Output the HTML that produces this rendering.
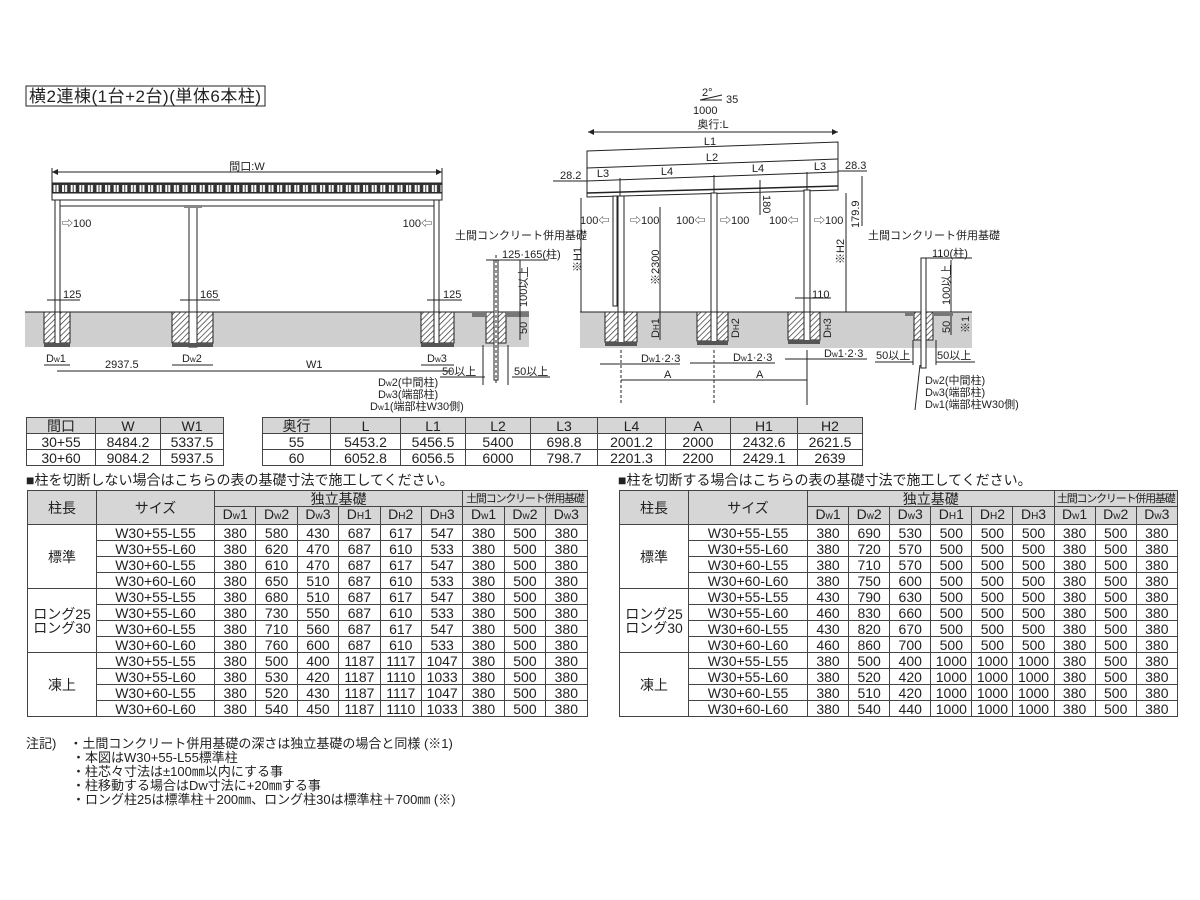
<!DOCTYPE html>
<html><head><meta charset="utf-8"><style>
body{margin:0;background:#fff;width:1200px;height:900px;position:relative;overflow:hidden;font-family:"Liberation Sans","Noto Sans CJK JP",sans-serif;color:#222}
svg{position:absolute;left:0;top:0}
svg text{font-family:"Liberation Sans","Noto Sans CJK JP",sans-serif;fill:#222}
table{position:absolute;border-collapse:collapse;table-layout:fixed;font-size:14px}
td{border:1px solid #444;text-align:center;padding:0;line-height:14px;white-space:nowrap;overflow:hidden}
.g{background:#d6d6d6}
.h td{height:15px}
small{font-size:10px}
.cap{position:absolute;font-size:14px;line-height:16px}
.note{position:absolute;left:26px;top:737px;font-size:13px;line-height:14px}
.dk{font-size:11px;letter-spacing:-1.2px}
</style></head><body>
<svg width="1200" height="420" viewBox="0 0 1200 420">
<defs>
<pattern id="hat" width="4" height="4" patternUnits="userSpaceOnUse" patternTransform="rotate(45)"><rect width="4" height="4" fill="#fff"/><line x1="0" y1="0" x2="0" y2="4" stroke="#333" stroke-width="1.4"/></pattern>
<pattern id="lv" x="52" y="183" width="8.6" height="10" patternUnits="userSpaceOnUse"><rect width="8.6" height="10" fill="#333"/><path d="M1.5 2h5v7h-5z" fill="#fff"/><path d="M4 2v7" stroke="#333"/></pattern>
</defs>
<rect x="26" y="86" width="239" height="20" fill="none" stroke="#222"/>
<text x="29" y="102" font-size="17" textLength="232">横2連棟(1台+2台)(単体6本柱)</text>
<!-- left diagram -->
<rect x="25" y="312" width="504" height="35" fill="#cfcfcf"/>
<line x1="25" y1="312" x2="529" y2="312" stroke="#222"/>
<line x1="52" y1="172" x2="442" y2="172" stroke="#222"/>
<path d="M52 172l6-3v6zM442 172l-6-3v6z" fill="#222"/>
<line x1="52" y1="168" x2="52" y2="183" stroke="#222"/><line x1="442" y1="168" x2="442" y2="183" stroke="#222"/>
<text x="247" y="170" font-size="11" text-anchor="middle">間口:W</text>
<rect x="52" y="183" width="390" height="10" fill="url(#lv)" stroke="#222"/>
<rect x="52" y="193" width="390" height="7" fill="#fff" stroke="#222"/>
<line x1="58" y1="206" x2="436" y2="206" stroke="#222"/>
<rect x="55" y="200" width="5" height="145" fill="#fff" stroke="#222"/>
<rect x="434" y="200" width="5" height="145" fill="#fff" stroke="#222"/>
<rect x="189" y="207" width="8" height="140" fill="#fff" stroke="#222"/>
<rect x="184" y="205" width="18" height="3" fill="#888"/>
<rect x="44" y="312" width="26" height="31" fill="url(#hat)" stroke="#222"/>
<rect x="172" y="312" width="41" height="31" fill="url(#hat)" stroke="#222"/>
<rect x="421" y="312" width="33" height="31" fill="url(#hat)" stroke="#222"/>
<rect x="55" y="312" width="5" height="33" fill="#fff" stroke="#222"/>
<rect x="189" y="312" width="8" height="35" fill="#fff" stroke="#222"/>
<rect x="434" y="312" width="5" height="33" fill="#fff" stroke="#222"/>
<rect x="44" y="343" width="26" height="4" fill="#555"/><rect x="172" y="343" width="41" height="4" fill="#555"/><rect x="421" y="343" width="33" height="4" fill="#555"/>
<g font-size="11">
<text x="62" y="227">⇨100</text><text x="432" y="227" text-anchor="end">100⇦</text>
<text x="63" y="298">125</text><line x1="47" y1="300" x2="80" y2="300" stroke="#222"/>
<text x="200" y="298">165</text><line x1="180" y1="300" x2="220" y2="300" stroke="#222"/>
<text x="443" y="298">125</text><line x1="427" y1="300" x2="462" y2="300" stroke="#222"/>
<text x="46" y="362">D<tspan font-size="8">w</tspan>1</text><text x="182" y="362">D<tspan font-size="8">w</tspan>2</text><text x="427" y="362">D<tspan font-size="8">w</tspan>3</text>
<line x1="44" y1="365" x2="70" y2="365" stroke="#222"/><line x1="172" y1="365" x2="213" y2="365" stroke="#222"/><line x1="421" y1="365" x2="454" y2="365" stroke="#222"/>
<text x="105" y="368">2937.5</text><text x="306" y="368">W1</text>
<line x1="57" y1="371" x2="452" y2="371" stroke="#222"/>
<text x="455" y="239">土間コンクリート併用基礎</text>
<text x="502" y="258">125·165(柱)</text>
<line x1="486" y1="260" x2="548" y2="260" stroke="#222"/>
<text transform="translate(527,307) rotate(-90)">100以上</text>
<text transform="translate(527,334) rotate(-90)">50</text>
<text x="442" y="375">50以上</text><text x="514" y="375">50以上</text>
<line x1="440" y1="377" x2="485" y2="377" stroke="#222"/><line x1="512" y1="377" x2="550" y2="377" stroke="#222"/>
<text x="378" y="386">D<tspan font-size="8">w</tspan>2(中間柱)</text>
<text x="378" y="398">D<tspan font-size="8">w</tspan>3(端部柱)</text>
<text x="370" y="410">D<tspan font-size="8">w</tspan>1(端部柱W30側)</text>
</g>
<rect x="486" y="312" width="20" height="31" fill="url(#hat)" stroke="#222"/>
<rect x="494" y="260" width="4" height="120" fill="#fff" stroke="#222"/>
<line x1="496" y1="255" x2="496" y2="385" stroke="#222" stroke-dasharray="3,2"/>
<rect x="472" y="312" width="14" height="5" fill="#777"/><rect x="506" y="312" width="23" height="5" fill="#777"/>
<line x1="483" y1="345" x2="483" y2="385" stroke="#222"/><line x1="508" y1="345" x2="508" y2="385" stroke="#222"/>
<line x1="520" y1="260" x2="520" y2="340" stroke="#222"/>
<!-- right diagram -->
<rect x="580" y="312" width="392" height="36" fill="#cfcfcf"/>
<line x1="580" y1="312" x2="972" y2="312" stroke="#222"/>
<polygon points="587,151 838,142 838,190 587,197" fill="#fff" stroke="#222"/>
<line x1="587" y1="168" x2="838" y2="159" stroke="#222"/>
<line x1="587" y1="181" x2="838" y2="172" stroke="#222"/>
<line x1="587" y1="193" x2="838" y2="186" stroke="#222" stroke-width="1.5"/>
<g font-size="11">
<text x="702" y="96">2°</text><text x="726" y="103">35</text><text x="693" y="114">1000</text>
<path d="M700 100l22-5" fill="none" stroke="#222"/><line x1="700" y1="100" x2="722" y2="100" stroke="#222"/>
<text x="713" y="128" text-anchor="middle">奥行:L</text>
<line x1="588" y1="132" x2="838" y2="132" stroke="#222"/><path d="M588 132l6-3v6zM838 132l-6-3v6z" fill="#222"/>
<text x="710" y="145" text-anchor="middle">L1</text><text x="712" y="161" text-anchor="middle">L2</text>
<text x="603" y="177" text-anchor="middle">L3</text><text x="667" y="175" text-anchor="middle">L4</text><text x="758" y="172" text-anchor="middle">L4</text><text x="820" y="170" text-anchor="middle">L3</text>
<text x="560" y="179">28.2</text><line x1="553" y1="181" x2="587" y2="181" stroke="#222"/>
<text x="845" y="169">28.3</text><line x1="838" y1="171" x2="867" y2="171" stroke="#222"/>
</g>
<g stroke="#222"><line x1="620" y1="178" x2="620" y2="196"/><line x1="714" y1="175" x2="714" y2="193"/><line x1="807" y1="172" x2="807" y2="190"/></g>
<rect x="618" y="196" width="6" height="148" fill="#fff" stroke="#222"/>
<rect x="711" y="193" width="6" height="150" fill="#fff" stroke="#222"/>
<rect x="804" y="190" width="6" height="152" fill="#fff" stroke="#222"/>
<rect x="613" y="196" width="4" height="110" fill="#fff" stroke="#222"/>
<rect x="605" y="312" width="32" height="30" fill="url(#hat)" stroke="#222"/>
<rect x="697" y="312" width="31" height="29" fill="url(#hat)" stroke="#222"/>
<rect x="788" y="312" width="32" height="28" fill="url(#hat)" stroke="#222"/>
<rect x="618" y="312" width="6" height="32" fill="#fff" stroke="#222"/><rect x="711" y="312" width="6" height="31" fill="#fff" stroke="#222"/><rect x="804" y="312" width="6" height="30" fill="#fff" stroke="#222"/>
<rect x="605" y="342" width="32" height="4" fill="#555"/><rect x="697" y="341" width="31" height="4" fill="#555"/><rect x="788" y="340" width="32" height="4" fill="#555"/>
<g stroke="#222" fill="none">
<line x1="581" y1="198" x2="581" y2="312"/><line x1="846" y1="193" x2="846" y2="312"/><line x1="660" y1="207" x2="660" y2="340"/>
<line x1="621" y1="350" x2="621" y2="405" stroke-dasharray="3,2"/><line x1="714" y1="350" x2="714" y2="405" stroke-dasharray="3,2"/><line x1="807" y1="350" x2="807" y2="405"/>
<line x1="621" y1="380" x2="807" y2="380"/>
<line x1="600" y1="364" x2="680" y2="364"/><line x1="690" y1="363" x2="775" y2="363"/><line x1="785" y1="359" x2="867" y2="359"/>
<line x1="760" y1="180" x2="760" y2="215"/><line x1="862" y1="176" x2="862" y2="226"/>
<line x1="795" y1="298" x2="831" y2="298"/>
<line x1="875" y1="362" x2="913" y2="362"/><line x1="936" y1="362" x2="975" y2="362"/>
<line x1="913" y1="340" x2="913" y2="365"/><line x1="936" y1="340" x2="936" y2="365"/>
<line x1="920" y1="365" x2="915" y2="410"/>
<line x1="922" y1="258" x2="972" y2="258"/><line x1="951" y1="260" x2="951" y2="335"/>
</g>
<rect x="914" y="312" width="19" height="28" fill="url(#hat)" stroke="#222"/>
<rect x="921" y="258" width="5" height="110" fill="#fff" stroke="#222"/>
<rect x="905" y="312" width="9" height="4" fill="#777"/><rect x="933" y="312" width="20" height="4" fill="#777"/>
<g font-size="11">
<text x="580" y="224">100⇦</text><text x="630" y="224">⇨100</text>
<text x="676" y="224">100⇦</text><text x="720" y="224">⇨100</text>
<text x="769" y="224">100⇦</text><text x="814" y="224">⇨100</text>
<text transform="translate(763,195) rotate(90)">180</text>
<text transform="translate(859,228) rotate(-90)">179.9</text>
<text transform="translate(581,272) rotate(-90)">※H1</text>
<text transform="translate(659,285) rotate(-90)">※2300</text>
<text transform="translate(844,264) rotate(-90)">※H2</text>
<text x="812" y="298">110</text>
<text transform="translate(659,338) rotate(-90)">D<tspan font-size="8">H</tspan>1</text>
<text transform="translate(739,338) rotate(-90)">D<tspan font-size="8">H</tspan>2</text>
<text transform="translate(831,338) rotate(-90)">D<tspan font-size="8">H</tspan>3</text>
<text x="641" y="362">D<tspan font-size="8">w</tspan>1·2·3</text>
<text x="733" y="361">D<tspan font-size="8">w</tspan>1·2·3</text>
<text x="824" y="357">D<tspan font-size="8">w</tspan>1·2·3</text>
<text x="664" y="378">A</text><text x="756" y="378">A</text>
<text x="876" y="359">50以上</text><text x="937" y="359">50以上</text>
<text x="868" y="239">土間コンクリート併用基礎</text>
<text x="932" y="257">110(柱)</text>
<text transform="translate(950,305) rotate(-90)">100以上</text>
<text transform="translate(950,333) rotate(-90)">50</text>
<text transform="translate(969,333) rotate(-90)">※1</text>
<text x="925" y="384">D<tspan font-size="8">w</tspan>2(中間柱)</text>
<text x="925" y="396">D<tspan font-size="8">w</tspan>3(端部柱)</text>
<text x="925" y="408">D<tspan font-size="8">w</tspan>1(端部柱W30側)</text>
</g>
</svg>

<table style="left:26px;top:417px;width:197px">
<colgroup><col style="width:69px"><col style="width:65px"><col style="width:63px"></colgroup>
<tr class="h"><td class="g">間口</td><td class="g">W</td><td class="g">W1</td></tr>
<tr class="h"><td>30+55</td><td>8484.2</td><td>5337.5</td></tr>
<tr class="h"><td>30+60</td><td>9084.2</td><td>5937.5</td></tr>
</table>
<table style="left:262px;top:417px;width:600px">
<colgroup><col style="width:68px"><col style="width:70px"><col style="width:65px"><col style="width:65px"><col style="width:67px"><col style="width:68px"><col style="width:65px"><col style="width:67px"><col style="width:65px"></colgroup>
<tr class="h"><td class="g">奥行</td><td class="g">L</td><td class="g">L1</td><td class="g">L2</td><td class="g">L3</td><td class="g">L4</td><td class="g">A</td><td class="g">H1</td><td class="g">H2</td></tr>
<tr class="h"><td>55</td><td>5453.2</td><td>5456.5</td><td>5400</td><td>698.8</td><td>2001.2</td><td>2000</td><td>2432.6</td><td>2621.5</td></tr>
<tr class="h"><td>60</td><td>6052.8</td><td>6056.5</td><td>6000</td><td>798.7</td><td>2201.3</td><td>2200</td><td>2429.1</td><td>2639</td></tr>
</table>

<div class="cap" style="left:26px;top:472px">■柱を切断しない場合はこちらの表の基礎寸法で施工してください。</div>
<div class="cap" style="left:618px;top:472px">■柱を切断する場合はこちらの表の基礎寸法で施工してください。</div>

<table style="left:27px;top:490px;width:560px">
<colgroup><col style="width:69px"><col style="width:118px"><col span="9" style="width:41.4px"></colgroup>
<tr class="h"><td class="g" rowspan="2">柱長</td><td class="g" rowspan="2">サイズ</td><td class="g" colspan="6">独立基礎</td><td class="g dk" colspan="3">土間コンクリート併用基礎</td></tr>
<tr class="h"><td class="g">D<small>w</small>1</td><td class="g">D<small>w</small>2</td><td class="g">D<small>w</small>3</td><td class="g">D<small>H</small>1</td><td class="g">D<small>H</small>2</td><td class="g">D<small>H</small>3</td><td class="g">D<small>w</small>1</td><td class="g">D<small>w</small>2</td><td class="g">D<small>w</small>3</td></tr>
<tr class="h"><td rowspan="4">標準</td><td>W30+55-L55</td><td>380</td><td>580</td><td>430</td><td>687</td><td>617</td><td>547</td><td>380</td><td>500</td><td>380</td></tr>
<tr class="h"><td>W30+55-L60</td><td>380</td><td>620</td><td>470</td><td>687</td><td>610</td><td>533</td><td>380</td><td>500</td><td>380</td></tr>
<tr class="h"><td>W30+60-L55</td><td>380</td><td>610</td><td>470</td><td>687</td><td>617</td><td>547</td><td>380</td><td>500</td><td>380</td></tr>
<tr class="h"><td>W30+60-L60</td><td>380</td><td>650</td><td>510</td><td>687</td><td>610</td><td>533</td><td>380</td><td>500</td><td>380</td></tr>
<tr class="h"><td rowspan="4">ロング25<br>ロング30</td><td>W30+55-L55</td><td>380</td><td>680</td><td>510</td><td>687</td><td>617</td><td>547</td><td>380</td><td>500</td><td>380</td></tr>
<tr class="h"><td>W30+55-L60</td><td>380</td><td>730</td><td>550</td><td>687</td><td>610</td><td>533</td><td>380</td><td>500</td><td>380</td></tr>
<tr class="h"><td>W30+60-L55</td><td>380</td><td>710</td><td>560</td><td>687</td><td>617</td><td>547</td><td>380</td><td>500</td><td>380</td></tr>
<tr class="h"><td>W30+60-L60</td><td>380</td><td>760</td><td>600</td><td>687</td><td>610</td><td>533</td><td>380</td><td>500</td><td>380</td></tr>
<tr class="h"><td rowspan="4">凍上</td><td>W30+55-L55</td><td>380</td><td>500</td><td>400</td><td>1187</td><td>1117</td><td>1047</td><td>380</td><td>500</td><td>380</td></tr>
<tr class="h"><td>W30+55-L60</td><td>380</td><td>530</td><td>420</td><td>1187</td><td>1110</td><td>1033</td><td>380</td><td>500</td><td>380</td></tr>
<tr class="h"><td>W30+60-L55</td><td>380</td><td>520</td><td>430</td><td>1187</td><td>1117</td><td>1047</td><td>380</td><td>500</td><td>380</td></tr>
<tr class="h"><td>W30+60-L60</td><td>380</td><td>540</td><td>450</td><td>1187</td><td>1110</td><td>1033</td><td>380</td><td>500</td><td>380</td></tr>
</table>

<table style="left:619px;top:490px;width:558px">
<colgroup><col style="width:69px"><col style="width:119px"><col span="9" style="width:41.1px"></colgroup>
<tr class="h"><td class="g" rowspan="2">柱長</td><td class="g" rowspan="2">サイズ</td><td class="g" colspan="6">独立基礎</td><td class="g dk" colspan="3">土間コンクリート併用基礎</td></tr>
<tr class="h"><td class="g">D<small>w</small>1</td><td class="g">D<small>w</small>2</td><td class="g">D<small>w</small>3</td><td class="g">D<small>H</small>1</td><td class="g">D<small>H</small>2</td><td class="g">D<small>H</small>3</td><td class="g">D<small>w</small>1</td><td class="g">D<small>w</small>2</td><td class="g">D<small>w</small>3</td></tr>
<tr class="h"><td rowspan="4">標準</td><td>W30+55-L55</td><td>380</td><td>690</td><td>530</td><td>500</td><td>500</td><td>500</td><td>380</td><td>500</td><td>380</td></tr>
<tr class="h"><td>W30+55-L60</td><td>380</td><td>720</td><td>570</td><td>500</td><td>500</td><td>500</td><td>380</td><td>500</td><td>380</td></tr>
<tr class="h"><td>W30+60-L55</td><td>380</td><td>710</td><td>570</td><td>500</td><td>500</td><td>500</td><td>380</td><td>500</td><td>380</td></tr>
<tr class="h"><td>W30+60-L60</td><td>380</td><td>750</td><td>600</td><td>500</td><td>500</td><td>500</td><td>380</td><td>500</td><td>380</td></tr>
<tr class="h"><td rowspan="4">ロング25<br>ロング30</td><td>W30+55-L55</td><td>430</td><td>790</td><td>630</td><td>500</td><td>500</td><td>500</td><td>380</td><td>500</td><td>380</td></tr>
<tr class="h"><td>W30+55-L60</td><td>460</td><td>830</td><td>660</td><td>500</td><td>500</td><td>500</td><td>380</td><td>500</td><td>380</td></tr>
<tr class="h"><td>W30+60-L55</td><td>430</td><td>820</td><td>670</td><td>500</td><td>500</td><td>500</td><td>380</td><td>500</td><td>380</td></tr>
<tr class="h"><td>W30+60-L60</td><td>460</td><td>860</td><td>700</td><td>500</td><td>500</td><td>500</td><td>380</td><td>500</td><td>380</td></tr>
<tr class="h"><td rowspan="4">凍上</td><td>W30+55-L55</td><td>380</td><td>500</td><td>400</td><td>1000</td><td>1000</td><td>1000</td><td>380</td><td>500</td><td>380</td></tr>
<tr class="h"><td>W30+55-L60</td><td>380</td><td>520</td><td>420</td><td>1000</td><td>1000</td><td>1000</td><td>380</td><td>500</td><td>380</td></tr>
<tr class="h"><td>W30+60-L55</td><td>380</td><td>510</td><td>420</td><td>1000</td><td>1000</td><td>1000</td><td>380</td><td>500</td><td>380</td></tr>
<tr class="h"><td>W30+60-L60</td><td>380</td><td>540</td><td>440</td><td>1000</td><td>1000</td><td>1000</td><td>380</td><td>500</td><td>380</td></tr>
</table>

<div class="note">
<div>注記)　・土間コンクリート併用基礎の深さは独立基礎の場合と同様 (※1)</div>
<div style="padding-left:46px">・本図はW30+55-L55標準柱</div>
<div style="padding-left:46px">・柱芯々寸法は±100㎜以内にする事</div>
<div style="padding-left:46px">・柱移動する場合はDw寸法に+20㎜する事</div>
<div style="padding-left:46px">・ロング柱25は標準柱＋200㎜、ロング柱30は標準柱＋700㎜ (※)</div>
</div>
</body></html>
